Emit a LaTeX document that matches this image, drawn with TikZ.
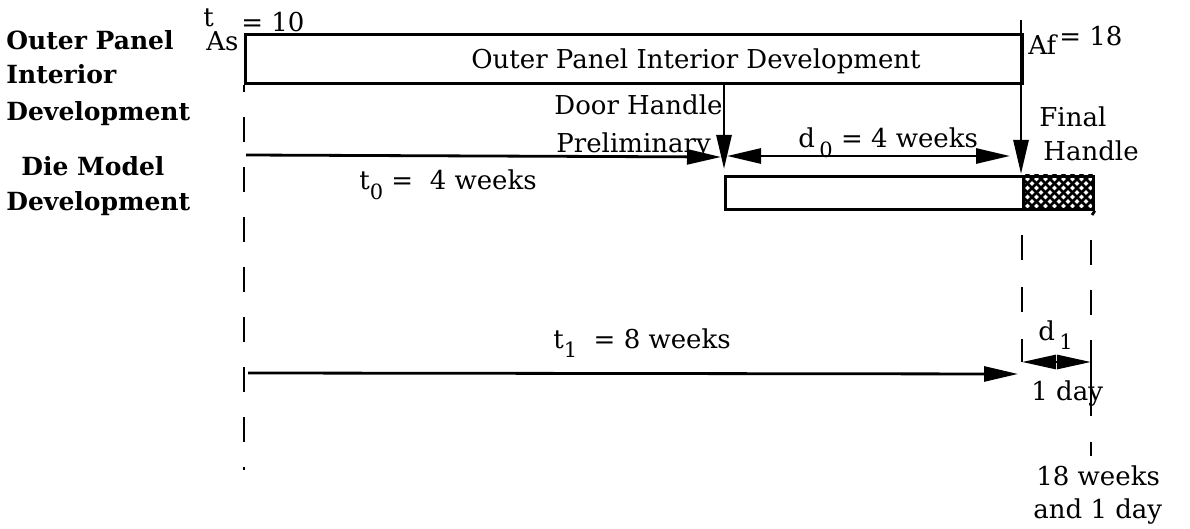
\documentclass[tikz,border=0pt]{standalone}
\usepackage{fontspec}
\setmainfont{DejaVu Serif}
\usetikzlibrary{arrows.meta}
\newcommand\lowsub[1]{\raisebox{-0.35em}{\fontsize{21}{21}\selectfont #1}}
\begin{document}
\begin{tikzpicture}[x=1pt,y=-1pt, line width=2.8pt,
  lbl/.style={font=\fontsize{25}{30}\selectfont\bfseries, anchor=base west, inner sep=0pt},
  txt/.style={font=\fontsize{26}{30}\selectfont, anchor=base west, inner sep=0pt},
  bar/.style={draw, anchor=north west, inner sep=0pt, line width=2.8pt},
  arr/.style={-{Triangle[length=34pt,width=15pt]}},
  darr/.style={{Triangle[length=34pt,width=15pt]}-{Triangle[length=34pt,width=15pt]}},
  guide/.style={dash pattern=on 25pt off 25pt}]
\useasboundingbox (0,0) rectangle (1190,529);

% left labels
\node[lbl] (l1) at (5,50) {Outer Panel};
\node[lbl] (l2) at (5,84) {Interior};
\node[lbl] (l3) at (5,121) {Development};
\node[lbl] (l4) at (20,176) {Die Model};
\node[lbl] (l5) at (5,211) {Development};

% top bar
\node[bar, minimum width=777pt, minimum height=49pt] (opbox) at (244,33) {};
\node[txt] (optext) at (470,69) {Outer Panel Interior Development};
\node[txt] (tt) at (202,27) {t};
\node[txt] (tas) at (205,51) {As};
\node[txt] (teq) at (240,32) {= 10};
\node[txt] (af) at (1027,55) {Af};
\node[txt] (afeq) at (1058,46) {= 18};

% left guide
\coordinate (g0a) at (244,92);
\coordinate (g0b) at (244,117);
\coordinate (g0c) at (244,470);
\draw (opbox.south west) -- (g0a);
\draw[guide] (g0b) -- (g0c);

% bottom bars
\node[bar, minimum width=298pt, minimum height=33pt] (pre) at (724,175) {};
\node[bar, minimum width=70pt, minimum height=33pt] (fin) at (1022,175) {};
\begin{scope}
  \clip (fin.north west) rectangle (fin.south east);
  \foreach \i in {0,9,...,150} {
    \draw[line width=2.6pt] (960+\i,170) -- ++(45,45);
    \draw[line width=2.6pt] (960+\i,215) -- ++(45,-45);
  }
\end{scope}
\coordinate (fintick) at (1092,215);
\draw (fin.south east) -- (fintick);

% door handle preliminary
\coordinate (dhtop) at (724,84);
\coordinate (dhtip) at (724,169);
\draw[arr] (dhtop) -- (dhtip);
\node[txt] (dh1) at (553,115) {Door Handle};
\node[txt] (dh2) at (555,153) {Preliminary};

% final handle
\coordinate (fhtop) at (1021,20);
\coordinate (fhtip) at (1021,174);
\draw[arr] (fhtop) -- (fhtip);
\node[txt] (fh1) at (1038,127) {Final};
\node[txt] (fh2) at (1042,161) {Handle};

% t0 arrow
\coordinate (t0a) at (246,155);
\coordinate (t0b) at (721,157);
\draw[arr] (t0a) -- (t0b);
\node[txt] (t0l) at (358,190) {t\lowsub{0} =\ \ 4 weeks};

% d0 arrow
\coordinate (d0a) at (727,156);
\coordinate (d0b) at (1010,156);
\draw[darr] (d0a) -- (d0b);
\node[txt] (d0l) at (797,148) {d\,\lowsub{0} = 4 weeks};

% right guides
\coordinate (g1a) at (1022,235);
\coordinate (g1b) at (1022,362);
\coordinate (g2a) at (1091,240);
\coordinate (g2b) at (1091,362);
\coordinate (g2c) at (1091,460);
\draw[dash pattern=on 25pt off 27pt] (g1a) -- (g1b);
\draw[dash pattern=on 25pt off 25pt] (g2a) -- (g2b);
\draw[dash pattern=on 54pt off 26pt on 14pt off 30pt] (g2b) -- (g2c);

% d1
\draw[{Triangle[length=34pt,width=14pt]}-{Triangle[length=34pt,width=14pt]}] (g1b) -- (g2b);
\node[txt] (d1l) at (1037,340) {d\,\lowsub{1}};
\node[txt] (d1v) at (1030,400) {1 day};

% t1 arrow
\coordinate (t1a) at (248,373);
\coordinate (t1b) at (1018,374);
\draw[arr] (t1a) -- (t1b);
\node[txt] (t1l) at (552,348) {t\lowsub{1}\ \ = 8 weeks};

% total
\node[txt] (tot1) at (1035,485) {18 weeks};
\node[txt] (tot2) at (1032,518) {and 1 day};
\end{tikzpicture}
\end{document}
